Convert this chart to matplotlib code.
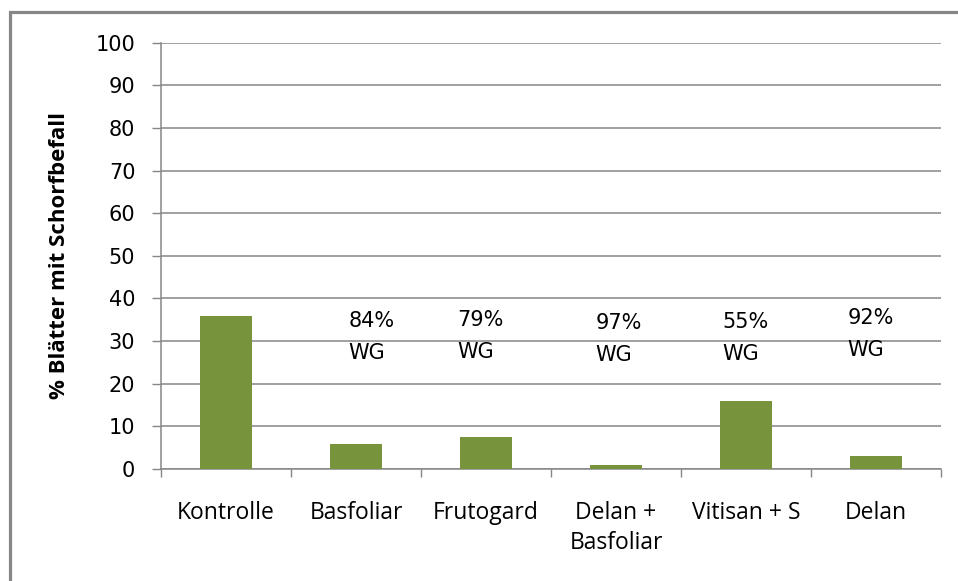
import matplotlib
matplotlib.use("Agg")
import matplotlib.pyplot as plt
from matplotlib.patches import Rectangle

# Daten
categories = ["Kontrolle", "Basfoliar", "Frutogard", "Delan +\nBasfoliar", "Vitisan + S", "Delan"]
values = [35.9, 5.9, 7.5, 1.0, 16.0, 3.0]
wg_labels = ["", "84%\nWG", "79%\nWG", "97%\nWG", "55%\nWG", "92%\nWG"]
y_ticks = [0, 10, 20, 30, 40, 50, 60, 70, 80, 90, 100]

# Textpositionen der Wirkungsgrade (x-Versatz zur Kategorie, y-Oberkante)
wg_dx = [0, -0.06, -0.22, -0.16, -0.18, -0.22]
wg_top = [0, 37.0, 37.4, 36.7, 36.8, 37.7]

GRAY = "#868686"
GREEN = "#77933C"

fig = plt.figure(figsize=(9.58, 5.81), dpi=100)
ax = fig.add_axes([161 / 958, 112 / 581, 780 / 958, 426.3 / 581])

x = list(range(len(categories)))
ax.bar(x, values, width=0.4, color=GREEN, zorder=3)

for i, txt in enumerate(wg_labels):
    if txt:
        ax.text(i + wg_dx[i], wg_top[i], txt, ha="left", va="top",
                fontsize=15, family="DejaVu Sans", linespacing=1.75, zorder=4)

ax.set_xlim(-0.5, len(categories) - 0.5)
ax.set_ylim(0, 100)
ax.set_yticks(y_ticks)
ax.set_yticklabels([str(t) for t in y_ticks], fontsize=15, family="DejaVu Sans")
ax.set_xticks(x)
ax.set_xticklabels(categories, fontsize=16.5, family="Open Sans", linespacing=1.35)
ax.set_xticks([i - 0.5 for i in range(len(categories) + 1)], minor=True)

ax.tick_params(axis="x", which="major", length=0, pad=23)
ax.tick_params(axis="x", which="minor", length=6, color=GRAY, width=1, direction="out")
ax.tick_params(axis="y", length=6.5, color=GRAY, width=1, pad=12)

ax.yaxis.grid(True, color=GRAY, linewidth=1.1, zorder=0)
ax.set_axisbelow(True)
for s in ["top", "right"]:
    ax.spines[s].set_visible(False)
for s in ["left", "bottom"]:
    ax.spines[s].set_color(GRAY)
    ax.spines[s].set_linewidth(1.1)

ax.set_ylabel("% Blätter mit Schorfbefall", fontsize=16, fontweight="bold", family="Open Sans")
ax.yaxis.set_label_coords(-91 / 780, 0.5)

# Rahmen des Diagramms (rechts und unten abgeschnitten)
frame = Rectangle((9.5 / 958, -0.1), 1.2, 1.1 - 12.5 / 581, transform=fig.transFigure,
                  fill=False, edgecolor=GRAY, linewidth=2.3)
fig.patches.append(frame)

fig.savefig("out.png", dpi=100)
